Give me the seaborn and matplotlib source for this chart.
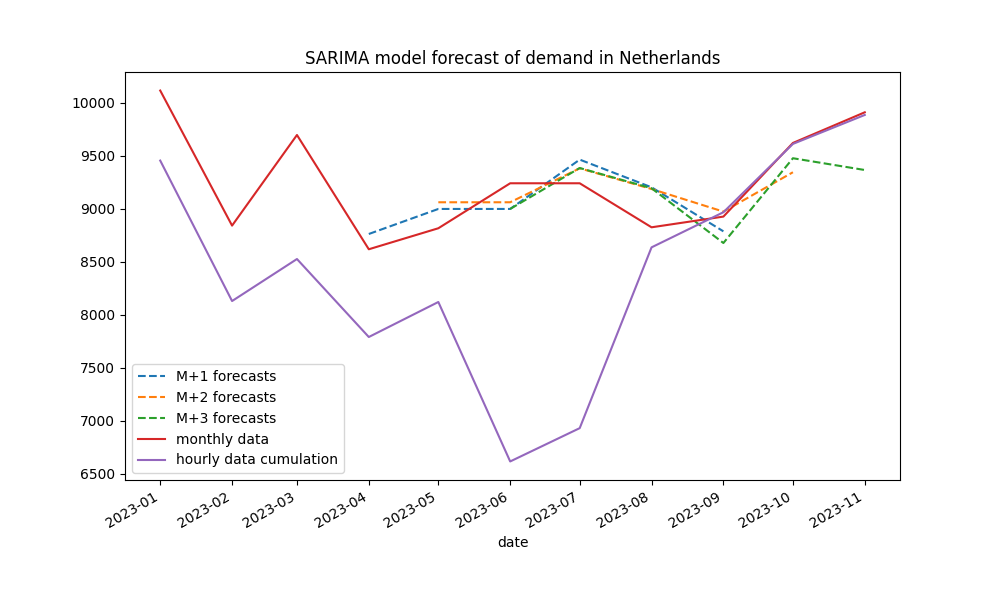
import matplotlib
matplotlib.use("Agg")
import matplotlib.pyplot as plt
import matplotlib.dates as mdates
import seaborn as sns
import pandas as pd

months = ["2023-01", "2023-02", "2023-03", "2023-04", "2023-05", "2023-06",
          "2023-07", "2023-08", "2023-09", "2023-10", "2023-11"]
monthly_data = [10113, 8840, 9694, 8617, 8815, 9239, 9239, 8824, 8925, 9619, 9908]
hourly_cum = [9453, 8129, 8525, 7790, 8120, 6617, 6931, 8635, 8966, 9610, 9883]

m1_months = ["2023-04", "2023-05", "2023-06", "2023-07", "2023-08", "2023-09"]
m1_values = [8761, 8997, 8997, 9462, 9201, 8786]
m2_months = ["2023-05", "2023-06", "2023-07", "2023-08", "2023-09", "2023-10"]
m2_values = [9060, 9060, 9380, 9185, 8972, 9343]
m3_months = ["2023-06", "2023-07", "2023-08", "2023-09", "2023-10", "2023-11"]
m3_values = [8997, 9383, 9192, 8676, 9475, 9364]

fig, ax = plt.subplots(figsize=(10, 6), dpi=100)

series = [
    (m1_months, m1_values, "M+1 forecasts", "C0", "--"),
    (m2_months, m2_values, "M+2 forecasts", "C1", "--"),
    (m3_months, m3_values, "M+3 forecasts", "C2", "--"),
    (months, monthly_data, "monthly data", "C3", "-"),
    (months, hourly_cum, "hourly data cumulation", "C4", "-"),
]
for mo, vals, lab, col, ls in series:
    df = pd.DataFrame({"date": pd.to_datetime(mo), "value": vals})
    sns.lineplot(data=df, x="date", y="value", ax=ax, label=lab, color=col,
                 linestyle=ls, linewidth=1.5)

ax.xaxis.set_major_locator(mdates.MonthLocator())
ax.xaxis.set_major_formatter(mdates.DateFormatter("%Y-%m"))
ax.set_xlabel("date")
ax.set_ylabel("")
ax.set_title("SARIMA model forecast of demand in Netherlands")
ax.legend(loc="lower left")
fig.subplots_adjust(left=0.125, right=0.9, top=0.88, bottom=0.2)
fig.autofmt_xdate()
fig.savefig("out.png", dpi=100)
